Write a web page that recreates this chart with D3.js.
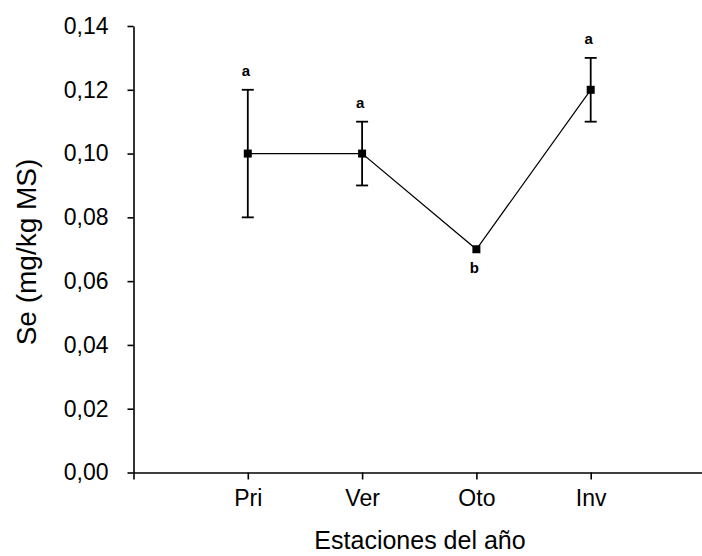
<!DOCTYPE html>
<html>
<head>
<meta charset="utf-8">
<script src="https://cdn.jsdelivr.net/npm/d3@7/dist/d3.min.js"></script>
<style>
  html, body { margin: 0; padding: 0; background: #fff; }
  svg { display: block; font-family: "Liberation Sans", Arial, sans-serif; }
</style>
</head>
<body>
<svg id="chart" width="702" height="556"></svg>
<script>
const categories = ["Pri", "Ver", "Oto", "Inv"];
const means = [0.10, 0.10, 0.07, 0.12];
const lower = [0.08, 0.09, 0.07, 0.11];
const upper = [0.12, 0.11, 0.07, 0.13];
const letters = ["a", "a", "b", "a"];
const letterAbove = [true, true, false, true];
const yTicks = [0, 0.02, 0.04, 0.06, 0.08, 0.10, 0.12, 0.14];
const xTitle = "Estaciones del año";
const yTitle = "Se (mg/kg MS)";

const svg = d3.select("#chart");
const x = d3.scaleLinear().domain([0, 5]).range([133.5, 705]);
const y = d3.scaleLinear().domain([0, 0.14]).range([472.5, 26]);
const fmt = v => d3.format(".2f")(v).replace(".", ",");

// Y axis
const yAxis = svg.append("g").attr("transform", `translate(${x(0)},0)`)
  .call(d3.axisLeft(y).tickValues(yTicks).tickFormat(fmt).tickSize(6).tickPadding(19).tickSizeOuter(0));
yAxis.select(".domain").attr("stroke", "#000").attr("stroke-width", 1.6);
yAxis.selectAll(".tick line").attr("stroke", "#000").attr("stroke-width", 1.6);
yAxis.selectAll(".tick text").attr("font-size", 23).attr("fill", "#000")
  .attr("font-family", "Liberation Sans, Arial, sans-serif");

// X axis
const xIdx = [0, 1, 2, 3, 4, 5];
const xAxis = svg.append("g").attr("transform", `translate(0,${y(0)})`)
  .call(d3.axisBottom(x).tickValues(xIdx).tickFormat(d => (d >= 1 && d <= categories.length) ? categories[d - 1] : "")
    .tickSize(7).tickPadding(10).tickSizeOuter(0));
xAxis.select(".domain").attr("stroke", "#000").attr("stroke-width", 1.6);
xAxis.selectAll(".tick line").attr("stroke", "#000").attr("stroke-width", 1.6);
xAxis.selectAll(".tick text").attr("font-size", 23).attr("fill", "#000")
  .attr("font-family", "Liberation Sans, Arial, sans-serif");

// Line
const pts = categories.map((c, i) => ({ i: i + 1, m: means[i], lo: lower[i], hi: upper[i], l: letters[i], above: letterAbove[i] }));
svg.append("path").datum(pts)
  .attr("fill", "none").attr("stroke", "#000").attr("stroke-width", 1.2)
  .attr("d", d3.line().x(d => x(d.i)).y(d => y(d.m)));

// Error bars
const eb = svg.append("g").attr("stroke", "#000").attr("stroke-width", 1.8);
pts.filter(d => d.hi > d.lo).forEach(d => {
  eb.append("line").attr("x1", x(d.i)).attr("x2", x(d.i)).attr("y1", y(d.lo)).attr("y2", y(d.hi));
  eb.append("line").attr("x1", x(d.i) - 6).attr("x2", x(d.i) + 6).attr("y1", y(d.lo)).attr("y2", y(d.lo));
  eb.append("line").attr("x1", x(d.i) - 6).attr("x2", x(d.i) + 6).attr("y1", y(d.hi)).attr("y2", y(d.hi));
});

// Markers
svg.append("g").selectAll("rect").data(pts).join("rect")
  .attr("x", d => x(d.i) - 4).attr("y", d => y(d.m) - 4)
  .attr("width", 8).attr("height", 8).attr("fill", "#000");

// Letters
svg.append("g").selectAll("text").data(pts).join("text")
  .attr("x", d => x(d.i) - 2)
  .attr("y", d => d.above ? y(d.hi) - 14 : y(d.lo) + 24)
  .attr("text-anchor", "middle").attr("font-size", 15).attr("font-weight", "bold").attr("fill", "#000")
  .text(d => d.l);

// Titles
svg.append("text").attr("x", 420).attr("y", 549).attr("text-anchor", "middle")
  .attr("font-size", 25).attr("fill", "#000").text(xTitle);
svg.append("text").attr("transform", "translate(36,252) rotate(-90)").attr("text-anchor", "middle")
  .attr("font-size", 28).attr("fill", "#000").text(yTitle);
</script>
</body>
</html>
